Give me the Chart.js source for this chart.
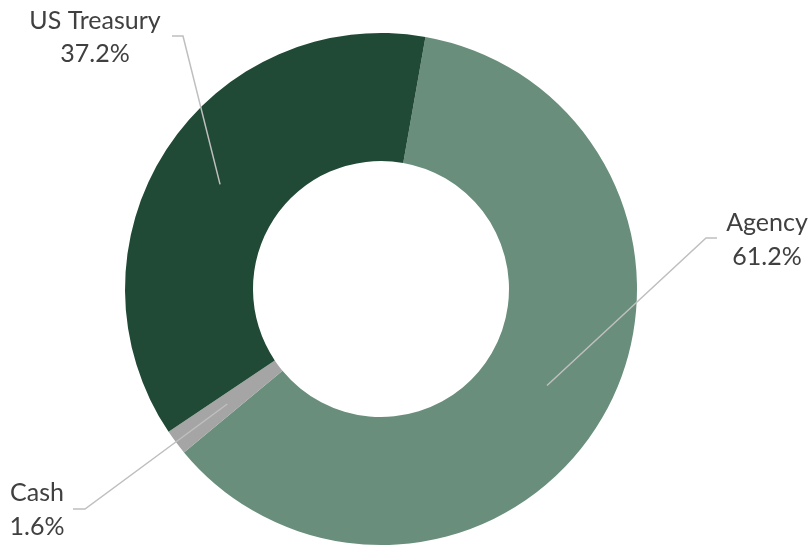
<!DOCTYPE html>
<html>
<head>
<meta charset="utf-8">
<script src="https://cdn.jsdelivr.net/npm/chart.js@4/dist/chart.umd.min.js"></script>
<style>
  html, body { margin: 0; padding: 0; background: #fff; }
  #mix { display: block; }
</style>
</head>
<body>
<canvas id="mix" width="810" height="548"></canvas>
<script>
// Portfolio mix (percent of total)
const labels = ['Agency', 'Cash', 'US Treasury'];
const shares = [61.2, 1.6, 37.2];
const colors = ['#698E7C', '#A5A5A5', '#214A36'];

// Where each callout sits: elbow of the leader line, end of the short tail, text centre / baselines
const callouts = [
  { elbow: [706, 238], tail: 717, textX: 767, lines: [231, 265] },
  { elbow: [85, 509],  tail: 73,  textX: 37,  lines: [501, 535] },
  { elbow: [183, 36],  tail: 172, textX: 95,  lines: [29, 62] }
];

const calloutPlugin = {
  id: 'callouts',
  afterDatasetsDraw(chart) {
    const ctx = chart.ctx;
    const arcs = chart.getDatasetMeta(0).data;
    ctx.save();
    arcs.forEach((arc, i) => {
      const c = callouts[i];
      const p = arc.getCenterPoint();
      ctx.strokeStyle = '#BFBFBF';
      ctx.lineWidth = 1.5;
      ctx.beginPath();
      ctx.moveTo(p.x, p.y);
      ctx.lineTo(c.elbow[0], c.elbow[1]);
      ctx.lineTo(c.tail, c.elbow[1]);
      ctx.stroke();

      ctx.fillStyle = '#404040';
      ctx.font = '25px Lato, "Open Sans", sans-serif';
      ctx.textAlign = 'center';
      ctx.textBaseline = 'alphabetic';
      ctx.fillText(labels[i], c.textX, c.lines[0]);
      ctx.fillText(shares[i].toFixed(1) + '%', c.textX, c.lines[1]);
    });
    ctx.restore();
  }
};

new Chart(document.getElementById('mix'), {
  type: 'doughnut',
  data: {
    labels: labels,
    datasets: [{
      data: shares,
      backgroundColor: colors,
      borderWidth: 0
    }]
  },
  options: {
    responsive: false,
    animation: false,
    rotation: 10,
    cutout: '50%',
    layout: { padding: { left: 125, right: 173, top: 33, bottom: 3 } },
    plugins: {
      legend: { display: false },
      tooltip: { enabled: false }
    }
  },
  plugins: [calloutPlugin]
});
</script>
</body>
</html>
